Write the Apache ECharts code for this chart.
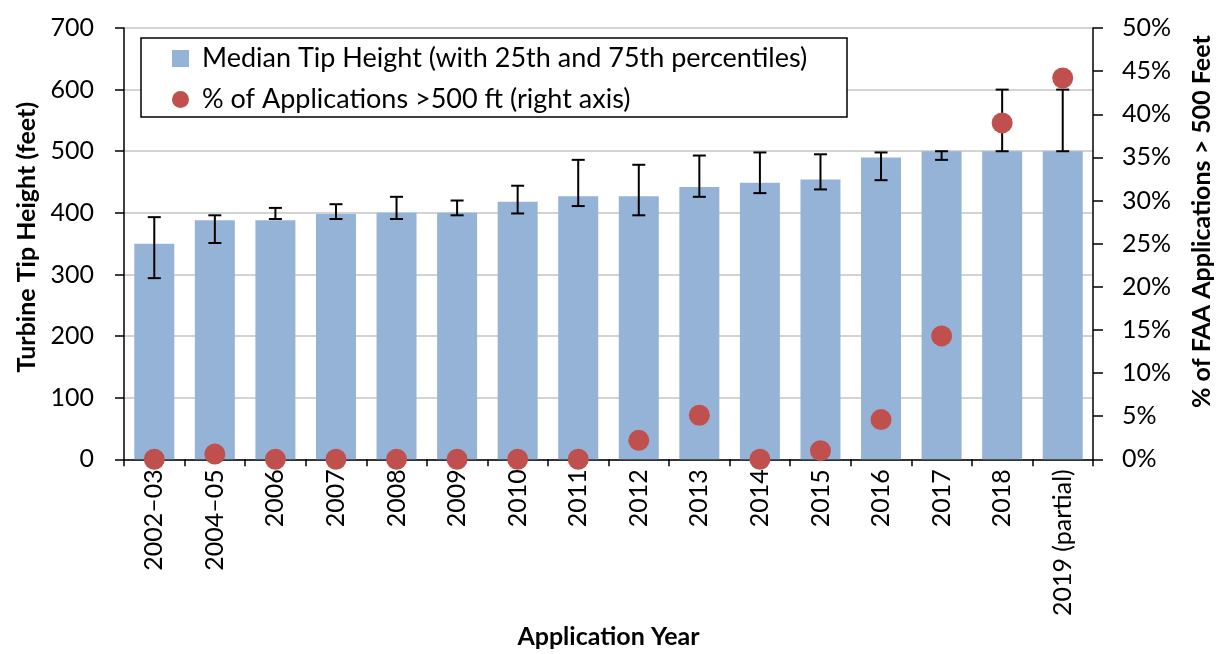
<!DOCTYPE html>
<html>
<head>
<meta charset="utf-8">
<script src="https://cdn.jsdelivr.net/npm/echarts@6/dist/echarts.min.js"></script>
<style>
html,body{margin:0;padding:0;background:#fff;}
#chart{width:1222px;height:654px;}
</style>
</head>
<body>
<div id="chart"></div>
<script>
var categories = ['2002\u201303','2004\u201305','2006','2007','2008','2009','2010','2011','2012','2013','2014','2015','2016','2017','2018','2019 (partial)'];
var medianHeight = [350, 388, 388, 398, 400, 400, 418, 427, 427, 442, 449, 454, 490, 500, 500, 500];
var p25Height =    [294, 351, 390, 390, 390, 396, 399, 411, 396, 426, 432, 438, 453, 486, 500, 500];
var p75Height =    [393, 396, 408, 414, 426, 420, 444, 486, 478, 493, 498, 495, 498, 500, 600, 600];
var pctOver500 =   [0, 0.6, 0, 0, 0, 0, 0, 0, 2.2, 5.1, 0, 1.0, 4.6, 14.3, 39.0, 44.2];
var leftTicks = {min: 0, max: 700, interval: 100};
var rightTicks = {min: 0, max: 50, interval: 5};

var FONT = 'Lato';
var errData = categories.map(function (c, i) { return [i, p25Height[i], p75Height[i]]; });

var chart = echarts.init(document.getElementById('chart'), null, {renderer: 'canvas'});
chart.setOption({
  backgroundColor: '#ffffff',
  animation: false,
  textStyle: {fontFamily: FONT, color: '#000'},
  grid: {left: 124, right: 118, top: 28, bottom: 156, containLabel: false},
  graphic: [{
    type: 'rect', z: 3,
    shape: {x: 141, y: 38, width: 706, height: 79},
    style: {fill: '#ffffff', stroke: '#000000', lineWidth: 1.5}
  }],
  legend: {
    z: 5,
    orient: 'vertical',
    left: 141, top: 38,
    padding: [7, 10, 8, 31],
    itemGap: 14,
    itemWidth: 17, itemHeight: 17,
    textStyle: {fontFamily: FONT, fontSize: 27, color: '#000', lineHeight: 27, padding: [0, 0, 0, 8]},
    data: [
      {name: 'Median Tip Height (with 25th and 75th percentiles)', icon: 'rect'},
      {name: '% of Applications >500 ft (right axis)', icon: 'circle'}
    ]
  },
  xAxis: {
    type: 'category',
    data: categories,
    boundaryGap: true,
    axisLine: {lineStyle: {color: '#000', width: 1.5}},
    axisTick: {show: true, length: 7, lineStyle: {color: '#000', width: 1.5}},
    axisLabel: {rotate: 90, margin: 10, fontSize: 25, color: '#000', fontFamily: FONT, interval: 0},
    name: 'Application Year',
    nameLocation: 'middle',
    nameGap: 102,
    nameTextStyle: {fontFamily: FONT, fontSize: 25, fontWeight: 'bold', color: '#000'}
  },
  yAxis: [{
    type: 'value',
    min: leftTicks.min, max: leftTicks.max, interval: leftTicks.interval,
    position: 'left',
    axisLine: {show: true, lineStyle: {color: '#000', width: 1.5}},
    axisTick: {show: true, length: 9, lineStyle: {color: '#000', width: 1.5}},
    axisLabel: {margin: 30, fontSize: 25, color: '#000', fontFamily: FONT},
    splitLine: {show: true, lineStyle: {color: '#c4c4c4', width: 1.5}},
    name: 'Turbine Tip Height (feet)',
    nameLocation: 'middle',
    nameGap: 80,
    nameTextStyle: {fontFamily: FONT, fontSize: 25, fontWeight: 'bold', color: '#000', padding: [0, 0, 0, 13]}
  }, {
    type: 'value',
    min: rightTicks.min, max: rightTicks.max, interval: rightTicks.interval,
    position: 'right',
    axisLine: {show: true, lineStyle: {color: '#000', width: 1.5}},
    axisTick: {show: true, length: 10, lineStyle: {color: '#000', width: 1.5}},
    axisLabel: {margin: 29, fontSize: 25, color: '#000', fontFamily: FONT, formatter: '{value}%'},
    splitLine: {show: false},
    name: '% of FAA Applications > 500 Feet',
    nameLocation: 'middle',
    nameGap: 96,
    nameTextStyle: {fontFamily: FONT, fontSize: 25, fontWeight: 'bold', color: '#000', padding: [0, 0, 0, 44]}
  }],
  series: [{
    name: 'Median Tip Height (with 25th and 75th percentiles)',
    type: 'bar',
    yAxisIndex: 0,
    data: medianHeight,
    barWidth: 40,
    itemStyle: {color: '#95b3d7'},
    z: 2
  }, {
    name: 'errorbars',
    type: 'custom',
    yAxisIndex: 0,
    data: errData,
    z: 3,
    renderItem: function (params, api) {
      var x = api.value(0);
      var lo = api.coord([x, api.value(1)]);
      var hi = api.coord([x, api.value(2)]);
      var hw = 6.5;
      var st = {stroke: '#000', lineWidth: 2};
      return {
        type: 'group',
        children: [
          {type: 'line', shape: {x1: lo[0], y1: lo[1], x2: hi[0], y2: hi[1]}, style: st},
          {type: 'line', shape: {x1: lo[0] - hw, y1: lo[1], x2: lo[0] + hw, y2: lo[1]}, style: st},
          {type: 'line', shape: {x1: hi[0] - hw, y1: hi[1], x2: hi[0] + hw, y2: hi[1]}, style: st}
        ]
      };
    }
  }, {
    name: '% of Applications >500 ft (right axis)',
    type: 'scatter',
    yAxisIndex: 1,
    data: pctOver500,
    symbol: 'circle',
    symbolSize: 21,
    itemStyle: {color: '#c0504d', opacity: 1},
    z: 6
  }]
});
</script>
</body>
</html>
